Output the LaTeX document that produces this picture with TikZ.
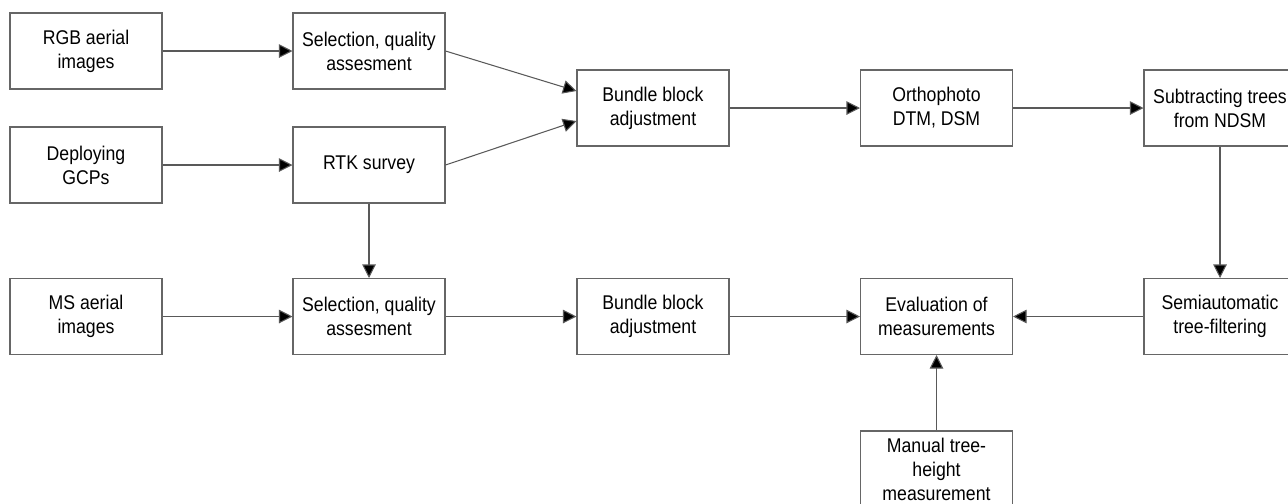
\documentclass[tikz,border=0pt]{standalone}
\usepackage{fontspec}
\setmainfont[FakeStretch=0.89]{Liberation Sans}
\usetikzlibrary{arrows.meta}

\tikzset{
    stepbox/.style={draw=black!60, line width=0.6pt, minimum width=3.04cm, minimum height=1.52cm,
        align=center, inner sep=0pt, font=\fontsize{11.3}{13.6}\selectfont},
    flow/.style={draw=black!65, line width=0.6pt, -{Triangle[length=0.27cm,width=0.27cm,fill=black]}}
}

\begin{document}
\begin{tikzpicture}
    \useasboundingbox (0,0) rectangle (25.76,-10.06);

    % Top rows: image acquisition and GCPs
    \node[stepbox] (rgb)  at (1.72,-1.02) {RGB aerial\\images};
    \node[stepbox] (sel1) at (7.38,-1.02) {Selection, quality\\assesment};
    \node[stepbox] (gcp)  at (1.72,-3.30) {Deploying\\GCPs};
    \node[stepbox] (rtk)  at (7.38,-3.30) {RTK survey};

    % Processing chain
    \node[stepbox] (bba1)  at (13.06,-2.16) {Bundle block\\adjustment};
    \node[stepbox] (ortho) at (18.73,-2.16) {Orthophoto\\DTM, DSM};
    \node[stepbox] (sub)   at (24.40,-2.16) {Subtracting trees\\from NDSM};

    % Bottom row
    \node[stepbox] (ms)   at (1.72,-6.33) {MS aerial\\images};
    \node[stepbox] (sel2) at (7.38,-6.33) {Selection, quality\\assesment};
    \node[stepbox] (bba2) at (13.06,-6.33) {Bundle block\\adjustment};
    \node[stepbox] (eval) at (18.73,-6.33) {Evaluation of\\measurements};
    \node[stepbox] (semi) at (24.40,-6.33) {Semiautomatic\\tree-filtering};
    \node[stepbox] (man)  at (18.73,-9.38) {Manual tree-\\height\\measurement};

    % Entry points on the first bundle block adjustment
    \coordinate (bbaIn1) at ([yshift=0.34cm]bba1.west);
    \coordinate (bbaIn2) at ([yshift=-0.26cm]bba1.west);

    % Connectors
    \draw[flow] (rgb) -- (sel1);
    \draw[flow] (gcp) -- (rtk);
    \draw[flow] (sel1.east) -- (bbaIn1);
    \draw[flow] (rtk.east) -- (bbaIn2);
    \draw[flow] (bba1) -- (ortho);
    \draw[flow] (ortho) -- (sub);
    \draw[flow] (rtk) -- (sel2);
    \draw[flow] (ms) -- (sel2);
    \draw[flow] (sel2) -- (bba2);
    \draw[flow] (bba2) -- (eval);
    \draw[flow] (sub) -- (semi);
    \draw[flow] (semi) -- (eval);
    \draw[flow] (man) -- (eval);
\end{tikzpicture}
\end{document}
